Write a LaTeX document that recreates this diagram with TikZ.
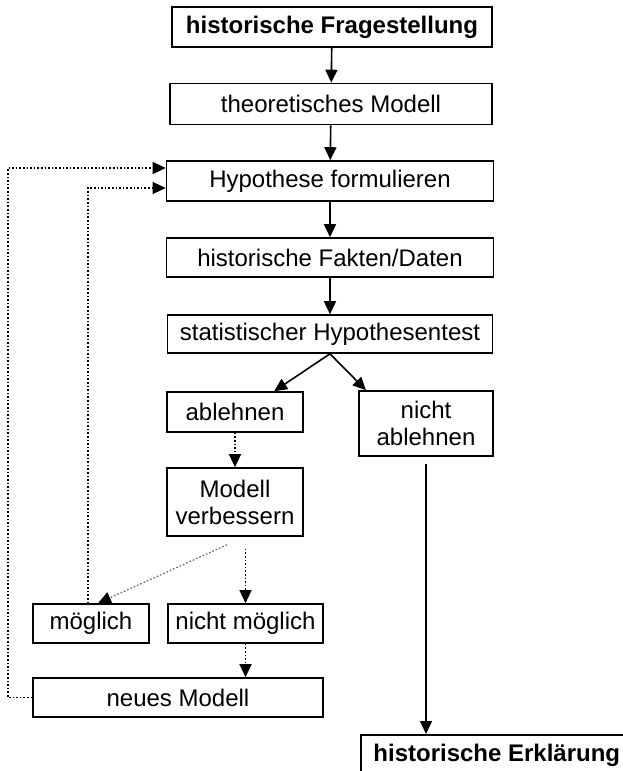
\documentclass[tikz,border=0pt]{standalone}
\usepackage{fontspec}
\setmainfont{Liberation Sans}
\usetikzlibrary{arrows.meta}

\begin{document}
\begin{tikzpicture}[x=0.5pt, y=-0.5pt,
	kasten/.style={draw, line width=0.8pt, align=center, inner sep=2pt, font=\fontsize{12}{13.5}\selectfont},
	fett/.style={font=\fontsize{12}{13.5}\selectfont\bfseries},
	pfeil/.style={-{Triangle[length=6.5pt,width=6pt,color=black]}, line width=0.8pt},
	punkt/.style={pfeil, densely dotted, line width=0.6pt}]
\useasboundingbox (0,0) rectangle (622,771);

\node[kasten, fett, minimum width=160pt, minimum height=20pt] (frage) at (332,27) {historische Fragestellung};
\node[kasten, minimum width=161pt, minimum height=20.5pt] (theorie) at (331,104) {theoretisches Modell};
\node[kasten, minimum width=163.5pt, minimum height=20pt] (hypo) at (330,181) {Hypothese formulieren};
\node[kasten, minimum width=163.5pt, minimum height=19.5pt] (fakten) at (330,257.5) {historische Fakten/Daten};
\node[kasten, minimum width=162.5pt, minimum height=19pt] (test) at (330,334) {statistischer Hypothesentest};
\node[kasten, minimum width=68pt, minimum height=20pt] (ablehnen) at (235,412) {ablehnen};
\node[kasten, minimum width=67pt, minimum height=32.5pt] (nichtabl) at (426,423.5) {nicht\\ablehnen};
\node[kasten, minimum width=68pt, minimum height=34pt] (verbessern) at (235,502) {Modell\\verbessern};
\node[kasten, minimum width=58pt, minimum height=19.5pt] (moeglich) at (91,623.5) {möglich};
\node[kasten, minimum width=77.5pt, minimum height=19.5pt] (nichtmoeglich) at (245.5,623.5) {nicht möglich};
\node[kasten, minimum width=145pt, minimum height=19.5pt] (neu) at (178,697.5) {neues Modell};
\node[kasten, fett, anchor=north west, minimum width=136pt, minimum height=21pt] (erklaerung) at (360,734) {historische Erklärung};
\coordinate (rand) at (8,168);

% Hauptpfad
\path[pfeil]
(frage) edge (theorie)
(theorie) edge (hypo)
(hypo) edge (fakten)
(fakten) edge (test)
(test.south) edge (ablehnen.28)
(test.south) edge (nichtabl.151)
([yshift=-3.5pt]nichtabl.south) edge (nichtabl.south |- erklaerung.north)
;
% Rueckkopplung
\path[punkt]
(ablehnen) edge (verbessern)
([yshift=-6pt]verbessern.south -| nichtmoeglich.north) edge (nichtmoeglich.north)
([xshift=-4pt,yshift=-4pt]verbessern.south) edge[draw=black!60] ([xshift=3.5pt]moeglich.north)
(nichtmoeglich.south) edge (nichtmoeglich.south |- neu.north)
;
\draw[punkt] ([xshift=-1.5pt]moeglich.north) |- ([yshift=-3.5pt]hypo.west);
\draw[punkt] (neu.west) -| (rand) -- ([yshift=6.5pt]hypo.west);
\end{tikzpicture}
\end{document}
